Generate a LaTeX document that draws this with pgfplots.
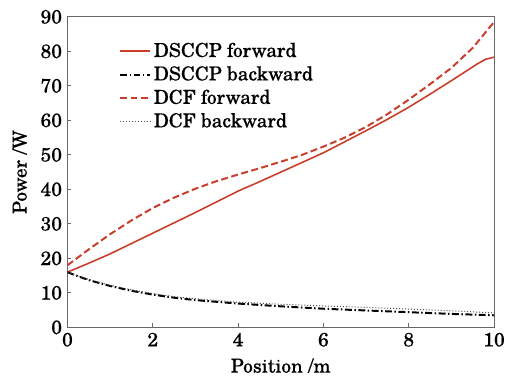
\documentclass[border=0pt]{standalone}
\usepackage{fontspec}
\setmainfont{TeX Gyre Schola}[FakeBold=0.4]
\usepackage{pgfplots}
\pgfplotsset{compat=1.18}
\definecolor{rline}{RGB}{200,62,42}
\definecolor{axgray}{RGB}{105,105,105}
\begin{document}
\fontsize{19}{22}\selectfont
\begin{tikzpicture}
\begin{axis}[
  scale only axis,
  width=430bp, height=313bp,
  xmin=0, xmax=10, ymin=0, ymax=90,
  xtick={0,2,4,6,8,10},
  ytick={0,10,20,30,40,50,60,70,80,90},
  tick align=inside,
  xtick pos=bottom, ytick pos=left,
  major tick length=4bp,
  axis line style={axgray, line width=1pt},
  every tick/.style={axgray, line width=0.8pt},
  tick label style={font=\fontsize{19.5}{22}\selectfont},
  label style={font=\fontsize{19.5}{22}\selectfont},
  xticklabel style={yshift=1bp},
  yticklabel style={xshift=1bp},
  /pgf/number format/assume math mode=true,
  xlabel={Position /m},
  ylabel={Power /W},
  xlabel style={yshift=1bp},
  ylabel style={yshift=1bp},
  legend style={draw=none, fill=none, at={(0.116,0.93)}, anchor=north west,
    font=\fontsize{19.5}{22}\selectfont, row sep=2.5bp, inner sep=2bp,
    /tikz/every even column/.append style={column sep=0bp},
    nodes={inner xsep=3bp}},
  legend cell align=left,
  legend image code/.code={\draw[#1] (0bp,0bp) -- (30bp,0bp);},
]
\addplot[rline, line width=1.6pt] coordinates {
(0,16) (0.5,18.6) (1,21.3) (1.5,24.3) (2,27.3) (2.5,30.3) (3,33.3) (3.5,36.4) (4,39.5)
(4.5,42.2) (5,45) (5.5,47.8) (6,50.6) (6.5,53.8) (7,57) (7.5,60.3) (8,63.8)
(8.5,67.6) (9,71.5) (9.3,73.9) (9.6,76.3) (9.8,77.7) (10,78.3)};
\addlegendentry{DSCCP forward}
\addplot[black, line width=2pt, dash pattern=on 7bp off 2.5bp on 1.5bp off 2.5bp] coordinates {
(0,16) (0.25,14.8) (0.5,13.7) (1,12) (1.5,10.6) (2,9.5) (2.5,8.6) (3,7.9) (3.5,7.4) (4,6.9)
(5,6.1) (6,5.4) (7,4.9) (8,4.4) (9,3.9) (10,3.5)};
\addlegendentry{DSCCP backward}
\addplot[rline, line width=2pt, dash pattern=on 7bp off 3.5bp] coordinates {
(0,18) (0.5,22.6) (1,27) (1.5,31) (2,34.6) (2.5,37.6) (3,40.2) (3.5,42.4) (4,44.3)
(4.5,46.1) (5,48) (5.5,50) (6,52.4) (6.5,55) (7,58.1) (7.5,61.8) (8,66)
(8.5,70.5) (9,75.2) (9.5,81) (10,88.5)};
\addlegendentry{DCF forward}
\addplot[black!70, line width=1pt, dotted] coordinates {
(0,16) (0.25,14.9) (0.5,13.9) (1,12.2) (1.5,10.9) (2,9.8) (2.5,8.9) (3,8.3) (3.5,7.8) (4,7.3)
(5,6.7) (6,6.2) (7,5.8) (8,5.3) (9,4.8) (10,4.2)};
\addlegendentry{DCF backward}
\end{axis}
\path[use as bounding box] ([xshift=-68bp,yshift=-51bp]current axis.south west) rectangle ([xshift=13bp,yshift=17bp]current axis.north east);
\end{tikzpicture}
\end{document}
